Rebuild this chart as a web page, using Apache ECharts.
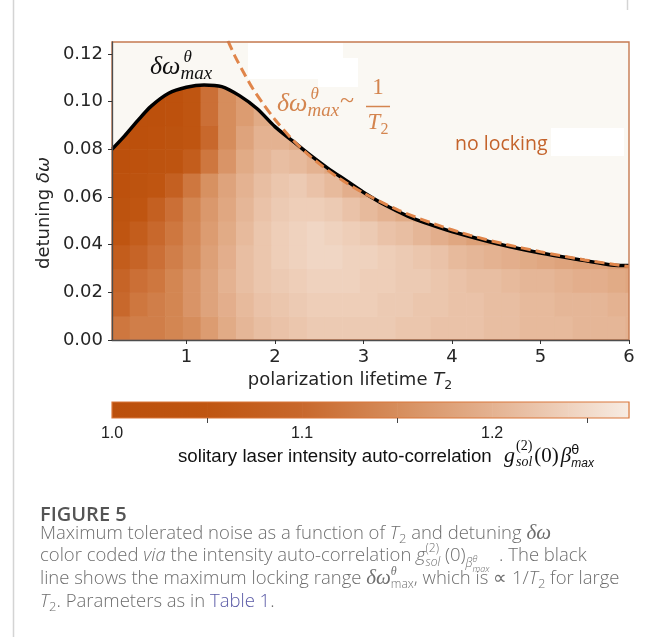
<!DOCTYPE html>
<html>
<head>
<meta charset="UTF-8">
<script src="https://cdn.jsdelivr.net/npm/echarts@6.0.0/dist/echarts.min.js"></script>
<style>
    html, body {margin: 0; padding: 0; background: #fff;}
    #main {width: 654px; height: 637px;}
</style>
</head>
<body>
<div id="main"></div>
<script>
    /* heatmap columns (T2 centres) and rows (detuning centres) */
    var colT2 = [0.26, 0.46, 0.66, 0.86, 1.06, 1.26, 1.46, 1.66, 1.86, 2.06, 2.26, 2.46, 2.66, 2.86, 3.06,
        3.26, 3.46, 3.66, 3.86, 4.06, 4.26, 4.46, 4.66, 4.86, 5.06, 5.26, 5.46, 5.66, 5.86, 6.06];
    var rowDw = [0.005, 0.015, 0.025, 0.035, 0.045, 0.055, 0.065, 0.075, 0.085, 0.095, 0.105];
    var cellW = 0.2, cellH = 0.01;

    /* g2 values, one array per detuning row (bottom -> top) */
    var g2Row0 = [1.12, 1.13, 1.13, 1.14, 1.15, 1.17, 1.19, 1.205, 1.215, 1.22, 1.225, 1.23, 1.23, 1.23, 1.23, 1.23, 1.225, 1.225, 1.22, 1.22, 1.22, 1.215, 1.215, 1.21, 1.21, 1.21, 1.205, 1.205, 1.205, 1.2];
    var g2Row1 = [1.10, 1.12, 1.13, 1.14, 1.16, 1.18, 1.195, 1.21, 1.22, 1.225, 1.23, 1.235, 1.235, 1.235, 1.235, 1.23, 1.23, 1.225, 1.225, 1.22, 1.22, 1.215, 1.215, 1.21, 1.21, 1.205, 1.205, 1.205, 1.2, 1.2];
    var g2Row2 = [1.09, 1.11, 1.12, 1.14, 1.16, 1.18, 1.20, 1.215, 1.225, 1.23, 1.235, 1.24, 1.24, 1.24, 1.235, 1.235, 1.23, 1.23, 1.225, 1.22, 1.215, 1.215, 1.21, 1.205, 1.205, 1.2, 1.195, 1.195, 1.19, 1.185];
    var g2Row3 = [1.07, 1.09, 1.11, 1.13, 1.15, 1.175, 1.195, 1.215, 1.225, 1.235, 1.24, 1.245, 1.245, 1.24, 1.24, 1.235, 1.23, 1.225, 1.22, 1.21, 1.205, 1.2, 1.195, 1.19, 1.185, 1.18, 1.175, 1.175, 1.17, 1.165];
    var g2Row4 = [1.05, 1.07, 1.10, 1.12, 1.145, 1.17, 1.19, 1.21, 1.225, 1.235, 1.24, 1.245, 1.24, 1.235, 1.23, 1.22, 1.215, 1.205, 1.195, 1.185, 1.175, 1.17];
    var g2Row5 = [1.03, 1.05, 1.08, 1.11, 1.14, 1.165, 1.185, 1.205, 1.22, 1.23, 1.235, 1.235, 1.23, 1.22, 1.21, 1.2, 1.19, 1.175];
    var g2Row6 = [1.02, 1.03, 1.05, 1.08, 1.12, 1.155, 1.18, 1.20, 1.215, 1.225, 1.23, 1.22, 1.21, 1.195, 1.185];
    var g2Row7 = [1.01, 1.02, 1.03, 1.04, 1.07, 1.12, 1.16, 1.19, 1.205, 1.215, 1.21, 1.2, 1.185];
    var g2Row8 = [1.01, 1.01, 1.02, 1.03, 1.05, 1.10, 1.15, 1.18, 1.20, 1.2, 1.19];
    var g2Row9 = [null, 1.01, 1.01, 1.02, 1.05, 1.11, 1.15, 1.17, 1.19, 1.195];
    var g2Row10 = [null, null, 1.01, 1.02, 1.05, 1.11, 1.15, 1.17];
    var g2Rows = [g2Row0, g2Row1, g2Row2, g2Row3, g2Row4, g2Row5, g2Row6, g2Row7, g2Row8, g2Row9, g2Row10];

    /* black curve: maximum locking range */
    var curveT2 = [0.16, 0.3, 0.45, 0.6, 0.8, 1.0, 1.2, 1.4, 1.6, 1.8, 2.0, 2.2, 2.4, 2.6, 2.8, 3.0, 3.25, 3.5, 3.75, 4.0, 4.5, 5.0, 5.5, 5.8, 6.0];
    var curveDw = [0.080, 0.0855, 0.092, 0.098, 0.1035, 0.106, 0.107, 0.1063, 0.1025, 0.097, 0.0895, 0.0835, 0.0775, 0.072, 0.067, 0.062, 0.0565, 0.052, 0.0485, 0.0455, 0.0405, 0.0365, 0.0333, 0.0315, 0.0312];

    /* dashed orange curve ~ 1/T2 */
    var dashT2 = [1.47, 1.55, 1.65, 1.75, 1.85, 2.0, 2.2, 2.4, 2.7, 3.0, 3.4, 3.8, 4.2, 4.6, 5.0, 5.5, 6.0];
    var dashDw = [0.1255, 0.119, 0.112, 0.1055, 0.100, 0.0925, 0.084, 0.077, 0.0685, 0.0617, 0.0544, 0.0487, 0.044, 0.0402, 0.037, 0.0336, 0.0308];

    var xTicks = [1, 2, 3, 4, 5, 6];
    var yTicks = [0, 0.02, 0.04, 0.06, 0.08, 0.10, 0.12];

    /* colour scale */
    var cbStops = [1.0, 1.05, 1.1, 1.15, 1.2, 1.24, 1.272];
    var cbColors = ['#bb4f0b', '#bf5511', '#c8682c', '#d68d5c', '#e4b291', '#efd2be', '#f7ece3'];
    var cbLabels = [1.0, 1.1, 1.2];
    var cbTicks = [1.05, 1.15, 1.25];

    var SANS = 'DejaVu Sans', SERIF = 'Liberation Serif', CAP = 'Open Sans', ARIAL = 'Liberation Sans';

    function colorOf(v) {
        for (var i = 0; i < cbStops.length - 1; i++) {
            if (v <= cbStops[i + 1] || i === cbStops.length - 2) {
                var t = (v - cbStops[i]) / (cbStops[i + 1] - cbStops[i]);
                t = Math.max(0, Math.min(1, t));
                return echarts.color.lerp(t, [cbColors[i], cbColors[i + 1]]);
            }
        }
    }

    var heatData = [];
    g2Rows.forEach(function (row, r) {
        row.forEach(function (v, c) {
            if (v != null) heatData.push([colT2[c], rowDw[r], v]);
        });
    });
    var curvePts = curveT2.map(function (t, i) { return [t, curveDw[i]]; });
    var dashPts = dashT2.map(function (t, i) { return [t, dashDw[i]]; });
    var cbSegs = [];
    for (var s = 0; s < cbStops.length - 1; s++) cbSegs.push([cbStops[s], cbStops[s + 1], s]);

    /* small layout helper for math-like labels (sub/superscripts) */
    var ctx = document.createElement('canvas').getContext('2d');
    function mathRow(x, base, parts, align) {
        var cx = 0, ps = 0, items = [];
        parts.forEach(function (p) {
            ctx.font = (p.ital ? 'italic ' : '') + (p.w || 'normal') + ' ' + p.size + 'px "' + p.fam + '"';
            var w = ctx.measureText(p.t).width;
            var st = (p.stack ? ps : cx) + (p.dx || 0);
            items.push({p: p, s: st});
            ps = st;
            cx = Math.max(cx, st + w);
        });
        var off = align === 'center' ? x - cx / 2 : x;
        return items.map(function (it) {
            var p = it.p;
            return {
                type: 'text', silent: true, z: 100,
                x: off + it.s, y: base + (p.dy || 0) - 0.33 * p.size,
                style: {
                    text: p.t, fontSize: p.size, fontFamily: p.fam,
                    fontStyle: p.ital ? 'italic' : 'normal', fontWeight: p.w || 'normal',
                    fill: p.c || '#222', align: 'left', verticalAlign: 'middle'
                }
            };
        });
    }

    var orange = '#d4854f';
    var capC = '#6e6e6e';
    function cp(t, o) {
        var p = {t: t, size: 18.5, fam: CAP, c: capC, w: 300};
        for (var k in o) p[k] = o[k];
        return p;
    }

    var graphics = [];
    function add(arr) { graphics = graphics.concat(arr); }

    /* page frame */
    add([{type: 'line', z: 100, silent: true, shape: {x1: 13.5, y1: 0, x2: 13.5, y2: 637}, style: {stroke: '#d4d4d4', lineWidth: 1.5}},
        {type: 'line', z: 100, silent: true, shape: {x1: 627.5, y1: 0, x2: 627.5, y2: 10}, style: {stroke: '#d4d4d4', lineWidth: 1.5}}]);

    /* white patches on the plot */
    add([{type: 'rect', z: 90, silent: true, shape: {x: 248, y: 43, width: 95, height: 36}, style: {fill: '#ffffff'}},
        {type: 'rect', z: 90, silent: true, shape: {x: 318, y: 58, width: 40, height: 29}, style: {fill: '#ffffff'}},
        {type: 'rect', z: 90, silent: true, shape: {x: 551, y: 128, width: 73, height: 28}, style: {fill: '#ffffff'}}]);

    /* black annotation */
    add(mathRow(150, 76, [
        {t: 'δω', size: 26, fam: SERIF, ital: true, c: '#111'},
        {t: 'θ', size: 17, fam: SERIF, ital: true, c: '#111', dy: -13, dx: 3},
        {t: 'max', size: 19, fam: SERIF, ital: true, c: '#111', dy: 4, stack: true, dx: -3}
    ]));

    /* orange annotation */
    add(mathRow(277, 113, [
        {t: 'δω', size: 26, fam: SERIF, ital: true, c: orange},
        {t: 'θ', size: 17, fam: SERIF, ital: true, c: orange, dy: -13, dx: 3},
        {t: 'max', size: 19, fam: SERIF, ital: true, c: orange, dy: 4, stack: true, dx: -3},
        {t: '~', size: 26, fam: SERIF, c: orange, dy: -3, dx: 1}
    ]));
    add(mathRow(378, 96, [{t: '1', size: 23, fam: SERIF, c: orange}], 'center'));
    add([{type: 'line', z: 100, silent: true, shape: {x1: 366, y1: 106.5, x2: 390, y2: 106.5}, style: {stroke: orange, lineWidth: 1.5}}]);
    add(mathRow(378, 131, [{t: 'T', size: 23, fam: SERIF, ital: true, c: orange}, {t: '2', size: 16, fam: SERIF, c: orange, dy: 4}], 'center'));

    add(mathRow(455, 151, [{t: 'no locking', size: 19.5, fam: CAP, c: '#c4632b'}]));

    /* axis names */
    add(mathRow(350, 386, [
        {t: 'polarization lifetime ', size: 18, fam: SANS, c: '#262626'},
        {t: 'T', size: 18, fam: SANS, ital: true, c: '#262626'},
        {t: '2', size: 12.5, fam: SANS, c: '#262626', dy: 4}
    ], 'center'));
    add([{
        type: 'text', z: 100, silent: true, x: 44, y: 213, rotation: Math.PI / 2,
        style: {
            text: 'detuning {m|δω}', fontFamily: SANS, fontSize: 18, fill: '#262626',
            align: 'center', verticalAlign: 'middle',
            rich: {m: {fontFamily: SANS, fontSize: 18, fontStyle: 'italic', fill: '#262626'}}
        }
    }]);

    /* colorbar title */
    add(mathRow(178, 463, [{t: 'solitary laser intensity auto-correlation', size: 18.7, fam: ARIAL, c: '#111'}]));
    add(mathRow(504, 463, [
        {t: 'g', size: 22, fam: SERIF, ital: true, c: '#111'},
        {t: '(2)', size: 14, fam: SERIF, c: '#111', dy: -12, dx: 1},
        {t: 'sol', size: 14, fam: SERIF, ital: true, c: '#111', dy: 4, stack: true},
        {t: '(0)', size: 21, fam: SERIF, c: '#111', dx: 2},
        {t: 'β', size: 21, fam: SERIF, ital: true, c: '#111', dx: 2},
        {t: 'θ', size: 13, fam: SANS, c: '#111', dy: -8},
        {t: 'max', size: 12, fam: ARIAL, ital: true, c: '#111', dy: 5, stack: true}
    ]));

    /* caption */
    add(mathRow(40, 522, [{t: 'FIGURE 5', size: 20, fam: CAP, w: 600, c: '#555'}]));
    add(mathRow(40, 540, [cp('Maximum tolerated noise as a function of '), cp('T', {ital: true}), cp('2', {size: 13, dy: 4}),
        cp(' and detuning '), cp('δω', {fam: SERIF, ital: true, size: 21, w: 'normal'})]));
    add(mathRow(40, 562, [cp('color coded '), cp('via', {ital: true}), cp(' the intensity auto-correlation '),
        cp('g', {ital: true}), cp('(2)', {size: 12, dy: -9}), cp('sol', {size: 12, ital: true, dy: 5, stack: true}),
        cp(' (0)'), cp('β', {size: 12, ital: true, dy: 6}), cp('θ', {size: 9, ital: true, dy: 0}),
        cp('max', {size: 9, ital: true, dy: 10, stack: true}), cp('  . The black')]));
    add(mathRow(40, 585, [cp('line shows the maximum locking range '), cp('δω', {fam: SERIF, ital: true, size: 21, w: 'normal'}),
        cp('θ', {size: 12, fam: SERIF, ital: true, dy: -9, w: 'normal'}), cp('max', {size: 12, dy: 4, stack: true}),
        cp(', which is ∝ 1/'), cp('T', {ital: true}), cp('2', {size: 13, dy: 4}), cp(' for large')]));
    add(mathRow(40, 608, [cp('T', {ital: true}), cp('2', {size: 13, dy: 4}), cp('. Parameters as in '),
        cp('Table 1', {c: '#5a5aa6'}), cp('.')]));

    var chart = echarts.init(document.getElementById('main'));

    var option = {
        backgroundColor: '#ffffff',
        animation: false,
        grid: [
            {left: 112, top: 42, width: 517, height: 298, show: true, backgroundColor: '#faf8f3', borderWidth: 0},
            {left: 112, top: 402, width: 517, height: 16}
        ],
        xAxis: [
            {
                gridIndex: 0, type: 'value', min: 0.16, max: 6, z: 10,
                axisLine: {show: true, lineStyle: {color: '#4d4d4d', width: 1.3}},
                axisTick: {show: true, length: 4, customValues: xTicks, lineStyle: {color: '#333'}},
                axisLabel: {customValues: xTicks, margin: 8, fontFamily: SANS, fontSize: 18, color: '#262626'},
                splitLine: {show: false}
            },
            {
                gridIndex: 1, type: 'value', min: 1.0, max: 1.272, z: 10,
                axisLine: {show: false},
                axisTick: {show: true, length: 5, customValues: cbTicks, lineStyle: {color: '#444'}},
                axisLabel: {
                    customValues: cbLabels, margin: 8, fontFamily: ARIAL, fontSize: 16, color: '#222',
                    formatter: function (v) { return v.toFixed(1); }
                },
                splitLine: {show: false}
            }
        ],
        yAxis: [
            {
                gridIndex: 0, type: 'value', min: 0, max: 0.125, z: 10,
                axisLine: {show: true, lineStyle: {color: '#4d4d4d', width: 1.3}},
                axisTick: {show: true, length: 4, customValues: yTicks, lineStyle: {color: '#333'}},
                axisLabel: {
                    customValues: yTicks, margin: 9, fontFamily: SANS, fontSize: 18, color: '#262626',
                    formatter: function (v) { return v.toFixed(2); }
                },
                splitLine: {show: false}
            },
            {gridIndex: 1, type: 'value', min: 0, max: 1, show: false}
        ],
        graphic: graphics,
        series: [
            {
                type: 'custom', xAxisIndex: 0, yAxisIndex: 0, clip: true, silent: true, z: 1,
                data: heatData,
                renderItem: function (params, api) {
                    var x = api.value(0), y = api.value(1), v = api.value(2);
                    var p0 = api.coord([x - cellW / 2, y - cellH / 2]);
                    var p1 = api.coord([x + cellW / 2, y + cellH / 2]);
                    return {
                        type: 'rect',
                        shape: {x: p0[0], y: p1[1], width: p1[0] - p0[0] + 0.6, height: p0[1] - p1[1] + 0.6},
                        style: {fill: colorOf(v)}
                    };
                }
            },
            {
                type: 'line', xAxisIndex: 0, yAxisIndex: 0, data: curvePts, smooth: 0.3, symbol: 'none', z: 3, silent: true,
                lineStyle: {color: '#000', width: 3.5},
                areaStyle: {origin: 'end', color: '#faf8f3', opacity: 1}
            },
            {
                type: 'line', xAxisIndex: 0, yAxisIndex: 0, data: dashPts, smooth: 0.3, symbol: 'none', z: 4, silent: true,
                lineStyle: {color: '#e0854a', width: 3, type: [10, 5]}
            },
            {
                /* plot frame (top/right edges in orange-brown) */
                type: 'custom', xAxisIndex: 0, yAxisIndex: 0, silent: true, z: 5,
                data: [[0.16, 0]],
                renderItem: function (params, api) {
                    var cs = params.coordSys;
                    return {
                        type: 'rect', shape: {x: cs.x, y: cs.y, width: cs.width, height: cs.height},
                        style: {fill: 'none', stroke: '#c57a50', lineWidth: 1.4}
                    };
                }
            },
            {
                /* colorbar gradient */
                type: 'custom', xAxisIndex: 1, yAxisIndex: 1, silent: true, z: 2,
                data: cbSegs,
                renderItem: function (params, api) {
                    var i = api.value(2);
                    var p0 = api.coord([api.value(0), 0]);
                    var p1 = api.coord([api.value(1), 1]);
                    return {
                        type: 'rect',
                        shape: {x: p0[0], y: p1[1], width: p1[0] - p0[0] + 0.6, height: p0[1] - p1[1]},
                        style: {
                            fill: new echarts.graphic.LinearGradient(0, 0, 1, 0, [
                                {offset: 0, color: cbColors[i]},
                                {offset: 1, color: cbColors[i + 1]}
                            ])
                        }
                    };
                }
            },
            {
                /* colorbar outline */
                type: 'custom', xAxisIndex: 1, yAxisIndex: 1, silent: true, z: 3,
                data: [[1.0, 0]],
                renderItem: function (params, api) {
                    var cs = params.coordSys;
                    return {
                        type: 'rect', shape: {x: cs.x, y: cs.y, width: cs.width, height: cs.height},
                        style: {fill: 'none', stroke: '#d9773a', lineWidth: 1.2}
                    };
                }
            }
        ]
    };
    chart.setOption(option);

    window.addEventListener('resize', function () {
        chart.resize();
    });
</script>
</body>
</html>
